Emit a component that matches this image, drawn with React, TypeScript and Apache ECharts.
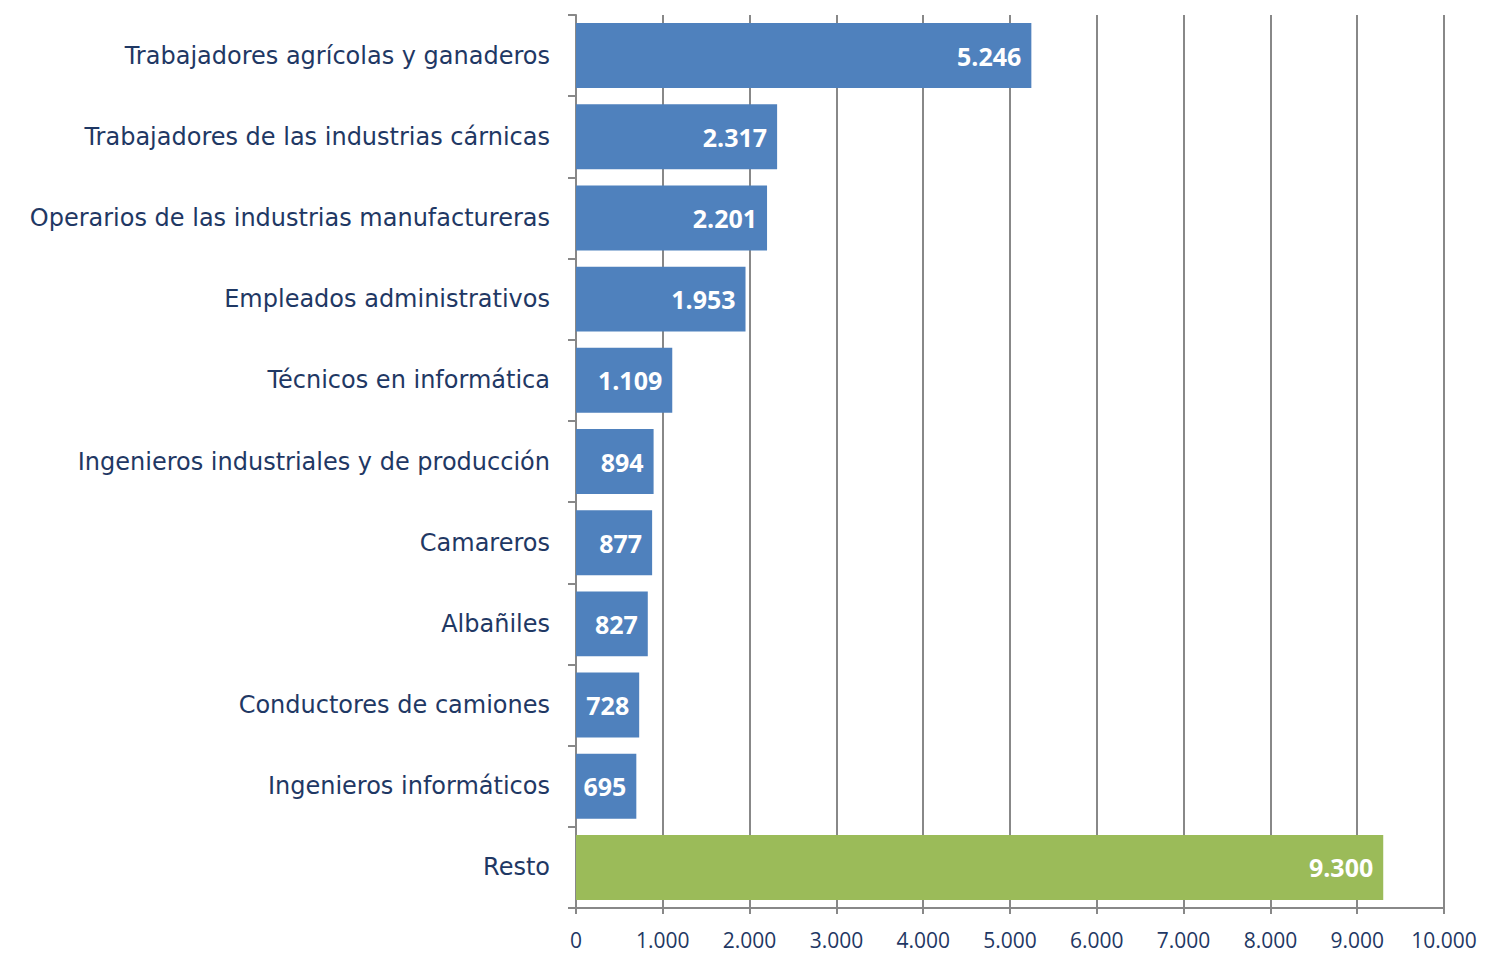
import React, { useEffect, useRef } from "react";
import * as echarts from "echarts";

const categories = [
  "Trabajadores agrícolas y ganaderos",
  "Trabajadores de las industrias cárnicas",
  "Operarios de las industrias manufactureras",
  "Empleados administrativos",
  "Técnicos en informática",
  "Ingenieros industriales y de producción",
  "Camareros",
  "Albañiles",
  "Conductores de camiones",
  "Ingenieros informáticos",
  "Resto",
];
const values = [5246, 2317, 2201, 1953, 1109, 894, 877, 827, 728, 695, 9300];
const highlight = ["Resto"];
const xTicks = [0, 1000, 2000, 3000, 4000, 5000, 6000, 7000, 8000, 9000, 10000];

const fmt = (v: number) => String(Math.round(v)).replace(/\B(?=(\d{3})+(?!\d))/g, ".");

export default function App() {
  const ref = useRef<HTMLDivElement>(null);
  useEffect(() => {
    if (!ref.current) return;
    const chart = echarts.init(ref.current, undefined, { renderer: "svg" });
    const navy = "#1F3864";
    chart.setOption({
      animation: false,
      grid: { left: 576, right: 42, top: 15, bottom: 48 },
      xAxis: {
        type: "value",
        min: xTicks[0],
        max: xTicks[xTicks.length - 1],
        interval: 1000,
        axisLine: { show: true, lineStyle: { color: "#888", width: 2 } },
        axisTick: { show: true, length: 6, lineStyle: { color: "#888", width: 2 } },
        splitLine: { show: true, lineStyle: { color: "#888", width: 2 } },
        axisLabel: {
          color: navy,
          fontFamily: "'Liberation Sans Narrow', 'Open Sans', sans-serif",
          fontSize: 21,
          margin: 21,
          formatter: (v: number) => fmt(v),
        },
      },
      yAxis: {
        type: "category",
        inverse: true,
        data: categories,
        axisLine: { show: true, lineStyle: { color: "#888", width: 2 } },
        axisTick: { show: true, length: 8, lineStyle: { color: "#888", width: 2 } },
        axisLabel: {
          color: navy,
          fontFamily: "'DejaVu Sans', sans-serif",
          fontSize: 24,
          margin: 26,
        },
      },
      series: [
        {
          type: "bar",
          barCategoryGap: "20%",
          data: values.map((v, i) => ({
            value: v,
            itemStyle: { color: highlight.includes(categories[i]) ? "#9BBB59" : "#4F81BD" },
          })),
          label: {
            show: true,
            position: "insideRight",
            distance: 10,
            color: "#fff",
            fontWeight: "bold",
            fontFamily: "'Open Sans', sans-serif",
            fontSize: 25,
            formatter: (p: any) => fmt(p.value),
          },
        },
      ],
    });
    return () => chart.dispose();
  }, []);
  return (
    <div
      ref={ref}
      style={{ position: "fixed", left: 0, top: 0, width: 1486, height: 956, background: "#fff" }}
    />
  );
}
